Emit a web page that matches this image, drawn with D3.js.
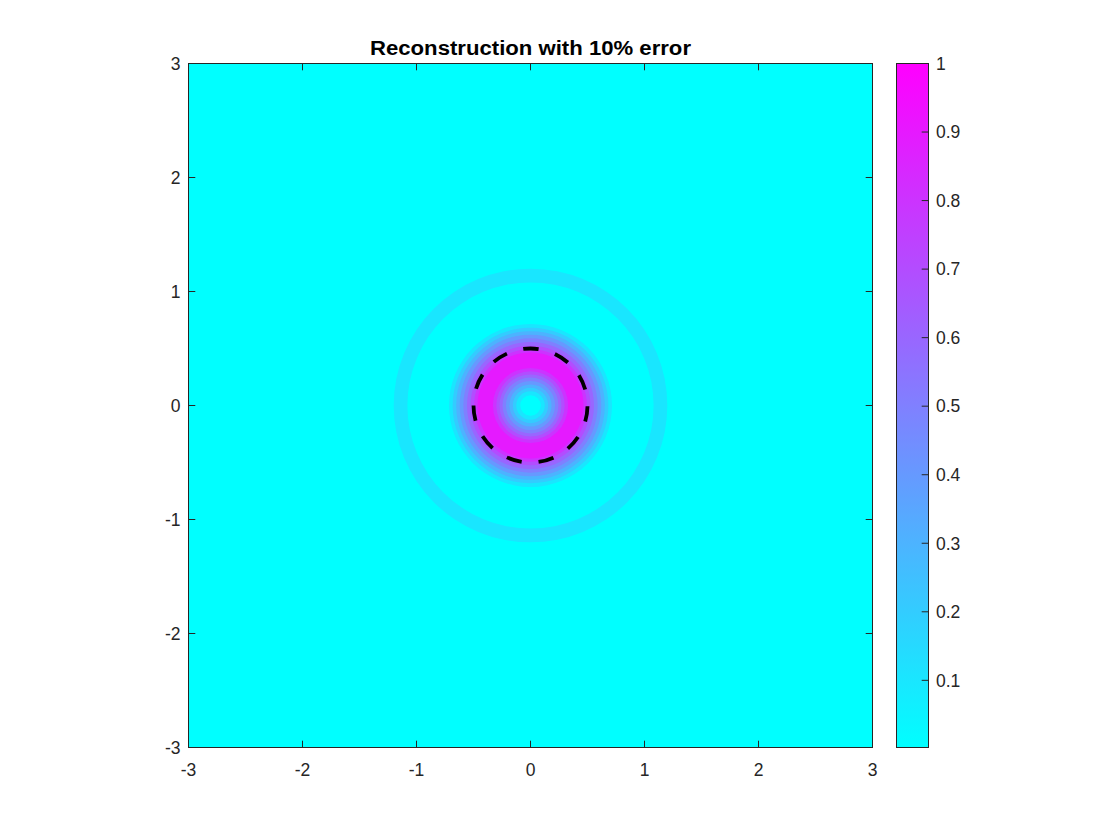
<!DOCTYPE html>
<html><head><meta charset="utf-8">
<script src="https://cdn.jsdelivr.net/npm/d3@7"></script>
<style>
body{margin:0;background:#fff}
text{font-family:"Liberation Sans",Arial,Helvetica,sans-serif;}
</style>
</head><body>
<svg id="chart" width="1120" height="840"></svg>
<script>
// ---------- data ----------
const titleText = "Reconstruction with 10% error";
const xTicks = [-3, -2, -1, 0, 1, 2, 3];
const yTicks = [-3, -2, -1, 0, 1, 2, 3];
const cbTicks = [0.1, 0.2, 0.3, 0.4, 0.5, 0.6, 0.7, 0.8, 0.9, 1];
const cbTickLabels = ["0.1", "0.2", "0.3", "0.4", "0.5", "0.6", "0.7", "0.8", "0.9", "1"];
const colorMin = 0.002, colorMax = 1;
// filled-contour bands (radial field): region where value >= level is an annulus
const bandLevels = [0.1, 0.1, 0.2, 0.3, 0.4, 0.5, 0.6, 0.7, 0.8, 0.9];
const bandInnerR = [0.09, 1.08, 0.125, 0.155, 0.185, 0.215, 0.245, 0.272, 0.30, 0.33];
const bandOuterR = [0.715, 1.20, 0.683, 0.652, 0.621, 0.589, 0.557, 0.525, 0.494, 0.465];
const trueRadius = 0.5;

// ---------- layout ----------
const svg = d3.select("#chart");
const L = 188.5, R = 872.5, T = 63.5, B = 747.5;
const x = d3.scaleLinear().domain([-3, 3]).range([L, R]);
const y = d3.scaleLinear().domain([-3, 3]).range([B, T]);
const cool = v => { const t = (v - colorMin) / (colorMax - colorMin); return d3.rgb(255 * t, 255 * (1 - t), 255).formatHex(); };
const axisColor = "#262626";
const tickFont = 17.5;

svg.append("defs").append("clipPath").attr("id", "clip")
  .append("rect").attr("x", L).attr("y", T).attr("width", R - L).attr("height", B - T);

const plot = svg.append("g").attr("clip-path", "url(#clip)");
plot.append("rect").attr("x", L).attr("y", T).attr("width", R - L).attr("height", B - T)
  .attr("fill", cool(colorMin));

const cx = x(0), cy = y(0);
const px = r => x(r) - x(0);
const arc = d3.arc().startAngle(0).endAngle(2 * Math.PI);
bandLevels.forEach((lev, i) => {
  plot.append("path")
    .attr("transform", `translate(${cx},${cy})`)
    .attr("d", arc({innerRadius: px(bandInnerR[i]), outerRadius: px(bandOuterR[i])}))
    .attr("fill", cool(lev));
});

// true boundary dashed circle, starting at left, going down
const p = d3.path();
const rr = px(trueRadius);
p.moveTo(cx - rr, cy);
p.arc(cx, cy, rr, Math.PI, -Math.PI, true);
plot.append("path").attr("d", p.toString())
  .attr("fill", "none").attr("stroke", "#000").attr("stroke-width", 3.8)
  .attr("stroke-dasharray", "15.5,17");

// ---------- axes ----------
const tl = 6.8;
const ax = svg.append("g");
ax.append("rect").attr("x", L).attr("y", T).attr("width", R - L).attr("height", B - T)
  .attr("fill", "none").attr("stroke", axisColor).attr("stroke-width", 1);
xTicks.forEach(v => {
  ax.append("line").attr("x1", x(v)).attr("x2", x(v)).attr("y1", B).attr("y2", B - tl).attr("stroke", axisColor);
  ax.append("line").attr("x1", x(v)).attr("x2", x(v)).attr("y1", T).attr("y2", T + tl).attr("stroke", axisColor);
  ax.append("text").attr("x", x(v)).attr("y", B + 28.5).attr("text-anchor", "middle")
    .attr("font-size", tickFont).attr("fill", axisColor).text(v < 0 ? "-" + Math.abs(v) : v);
});
yTicks.forEach(v => {
  ax.append("line").attr("x1", L).attr("x2", L + tl).attr("y1", y(v)).attr("y2", y(v)).attr("stroke", axisColor);
  ax.append("line").attr("x1", R).attr("x2", R - tl).attr("y1", y(v)).attr("y2", y(v)).attr("stroke", axisColor);
  ax.append("text").attr("x", L - 8).attr("y", y(v)).attr("dy", "0.36em").attr("text-anchor", "end")
    .attr("font-size", tickFont).attr("fill", axisColor).text(v < 0 ? "-" + Math.abs(v) : v);
});

// title
svg.append("text").attr("x", (L + R) / 2).attr("y", 55).attr("text-anchor", "middle")
  .attr("font-size", 20).attr("font-weight", "bold").attr("fill", "#000")
  .attr("textLength", 321).attr("lengthAdjust", "spacingAndGlyphs").text(titleText);

// ---------- colorbar ----------
const CL = 896.5, CR = 928.5;
const cb = d3.scaleLinear().domain([colorMin, colorMax]).range([B, T]);
const grad = svg.select("defs").append("linearGradient").attr("id", "cbgrad")
  .attr("x1", 0).attr("y1", 1).attr("x2", 0).attr("y2", 0);
d3.range(0, 1.0001, 0.1).forEach(t => {
  grad.append("stop").attr("offset", t).attr("stop-color", cool(colorMin + t * (colorMax - colorMin)));
});
svg.append("rect").attr("x", CL).attr("y", T).attr("width", CR - CL).attr("height", B - T)
  .attr("fill", "url(#cbgrad)").attr("stroke", axisColor).attr("stroke-width", 1);
cbTicks.forEach((v, i) => {
  svg.append("line").attr("x1", CR).attr("x2", CR - tl).attr("y1", cb(v)).attr("y2", cb(v)).attr("stroke", axisColor);
  svg.append("text").attr("x", CR + 7.5).attr("y", cb(v)).attr("dy", "0.36em")
    .attr("font-size", tickFont).attr("fill", axisColor).text(cbTickLabels[i]);
});
</script>
</body></html>
